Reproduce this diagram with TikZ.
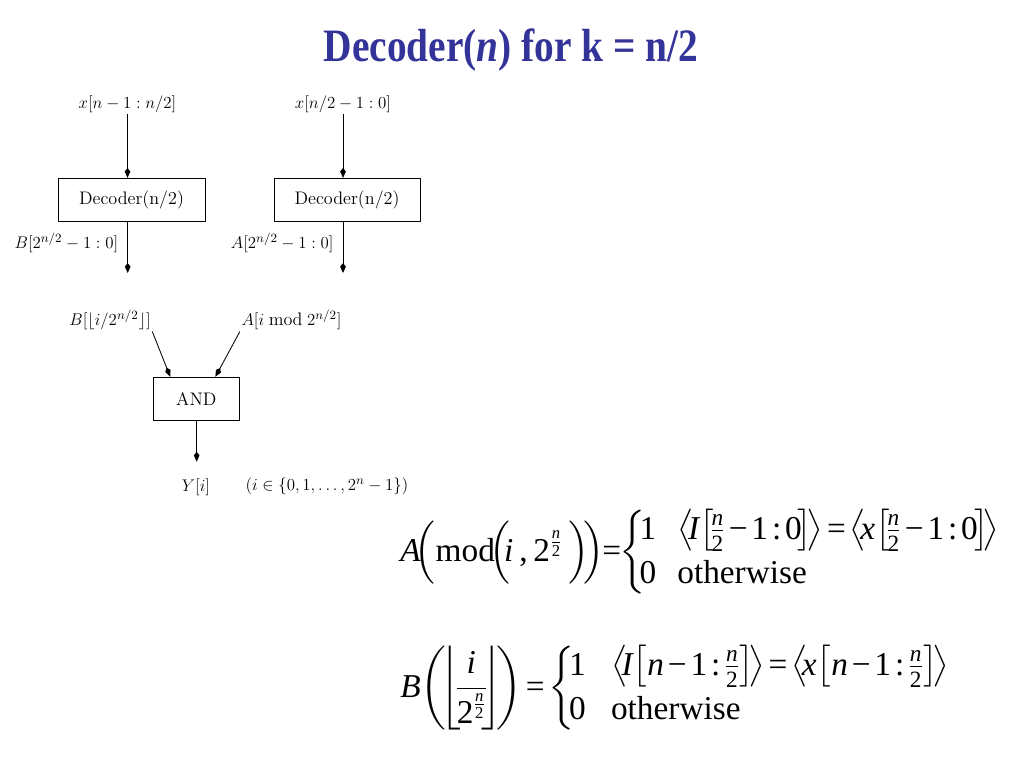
\documentclass[tikz,border=0pt]{standalone}
\usepackage{amsmath}
\usepackage{fontspec}
\newfontfamily\eqfont{Liberation Serif}
\usetikzlibrary{arrows.meta,calc}
\definecolor{titleblue}{RGB}{51,51,153}
\newcommand{\eqi}[1]{\text{\eqfont\itshape #1}}
\newcommand{\eqr}[1]{\text{\eqfont #1}}
\newcommand{\eqm}{\mathbin{\eqr{−}}}
\newcommand{\eqeq}{\mathrel{\eqr{=}}}
\newcommand{\eqc}{\mathrel{\eqr{:}}}
\newcommand{\twocase}[3]{\left\{\!\renewcommand{\arraystretch}{1.25}\begin{array}{@{}l@{\hspace{#3}}l@{}}\eqr{1} & #1\\ \eqr{0} & #2\end{array}\right.}
\begin{document}
\begin{tikzpicture}[x=0.025cm,y=-0.025cm,>={Kite[length=7pt,width=4pt,inset=2.5pt]},line join=round,
	sig/.style={font=\fontsize{12.9}{15}\selectfont,inner sep=1pt},
	blk/.style={draw,line width=0.6pt,font=\fontsize{12.9}{15}\selectfont,minimum height=1.075cm},
	eqn/.style={anchor=base west,inner sep=0pt,font=\fontsize{23.7}{25}\selectfont}]
	\useasboundingbox (0,0) rectangle (1024,768);
	\node[font=\eqfont\bfseries\fontsize{28}{32}\selectfont,text=titleblue] (title) at (511,50) {\scalebox{1}[1.18]{Decoder(\textit{n}) for k = n/2}};
	% hai bo giai ma
	\node[sig] (inB) at (127.5,104) {$x[n-1:n/2]$};
	\node[sig] (inA) at (343,104) {$x[n/2-1:0]$};
	\node[blk,minimum width=3.675cm] (decB) at (131.5,199.8) {Decoder(n/2)};
	\node[blk,minimum width=3.65cm] (decA) at (347,199.8) {Decoder(n/2)};
	\coordinate (outB) at (127.7,273);
	\coordinate (outA) at (343,273);
	\draw[->,line width=0.6pt] (inB.south) -- (inB.south |- decB.north);
	\draw[->,line width=0.6pt] (inA.south) -- (inA.south |- decA.north);
	\draw[->,line width=0.6pt] (outB |- decB.south) -- (outB) node[sig,pos=0.42,left=5.5pt] (labB) {$B[2^{n/2}-1:0]$};
	\draw[->,line width=0.6pt] (outA |- decA.south) -- (outA) node[sig,pos=0.42,left=5.5pt] (labA) {$A[2^{n/2}-1:0]$};
	% cong AND
	\node[sig] (selB) at (110,320) {$B[\lfloor i/2^{n/2}\rfloor]$};
	\node[sig] (selA) at (291.5,320) {$A[i \bmod 2^{n/2}]$};
	\node[blk,minimum width=2.15cm] (andg) at (196.3,398.7) {AND};
	\coordinate (outY) at (196.7,461.7);
	\draw[->,line width=0.6pt] (selB.south east) -- ($(andg.north west)!0.2!(andg.north east)$);
	\draw[->,line width=0.6pt] (selA.south west) -- ($(andg.north west)!0.72!(andg.north east)$);
	\draw[->,line width=0.6pt] (outY |- andg.south) -- (outY);
	\node[sig] (outlab) at (196,487) {$Y[i]$};
	\node[sig] (range) at (327,486) {$(i\in\{0,1,\ldots,2^n-1\})$};
	% cong thuc
	\node[eqn] (eqA) at (400,561) {$\medmuskip=2mu\thickmuskip=2mu\eqi{A}\mkern-3mu\Big(\eqr{mod}\mkern-3mu\Big(\!\eqi{i}\,\eqr{,}\,\eqr{2}^{\frac{\eqi{n}}{\eqr{2}}}\,\Big)\!\Big)\!\eqeq\!\twocase{\big\langle\!\eqi{I}\big[\mkern-2mu\tfrac{\eqi{n}}{\eqr{2}}\eqm\eqr{1}\eqc\eqr{0}\mkern-2mu\big]\!\big\rangle\eqeq\big\langle\!\eqi{x}\big[\mkern-2mu\tfrac{\eqi{n}}{\eqr{2}}\eqm\eqr{1}\eqc\eqr{0}\mkern-2mu\big]\!\big\rangle}{\eqr{otherwise}}{15pt}$};
	\node[eqn] (eqB) at (400,697) {$\medmuskip=2mu\thickmuskip=2mu\eqi{B}\bigg(\!\bigg\lfloor\!\dfrac{\eqi{i}}{\eqr{2}^{\frac{\eqi{n}}{\eqr{2}}}}\!\bigg\rfloor\!\bigg)\eqeq\twocase{\big\langle\!\eqi{I}\big[\eqi{n}\eqm\eqr{1}\eqc\tfrac{\eqi{n}}{\eqr{2}}\big]\!\big\rangle\eqeq\big\langle\!\eqi{x}\big[\eqi{n}\eqm\eqr{1}\eqc\tfrac{\eqi{n}}{\eqr{2}}\big]\!\big\rangle}{\eqr{otherwise}}{18pt}$};
\end{tikzpicture}
\end{document}
